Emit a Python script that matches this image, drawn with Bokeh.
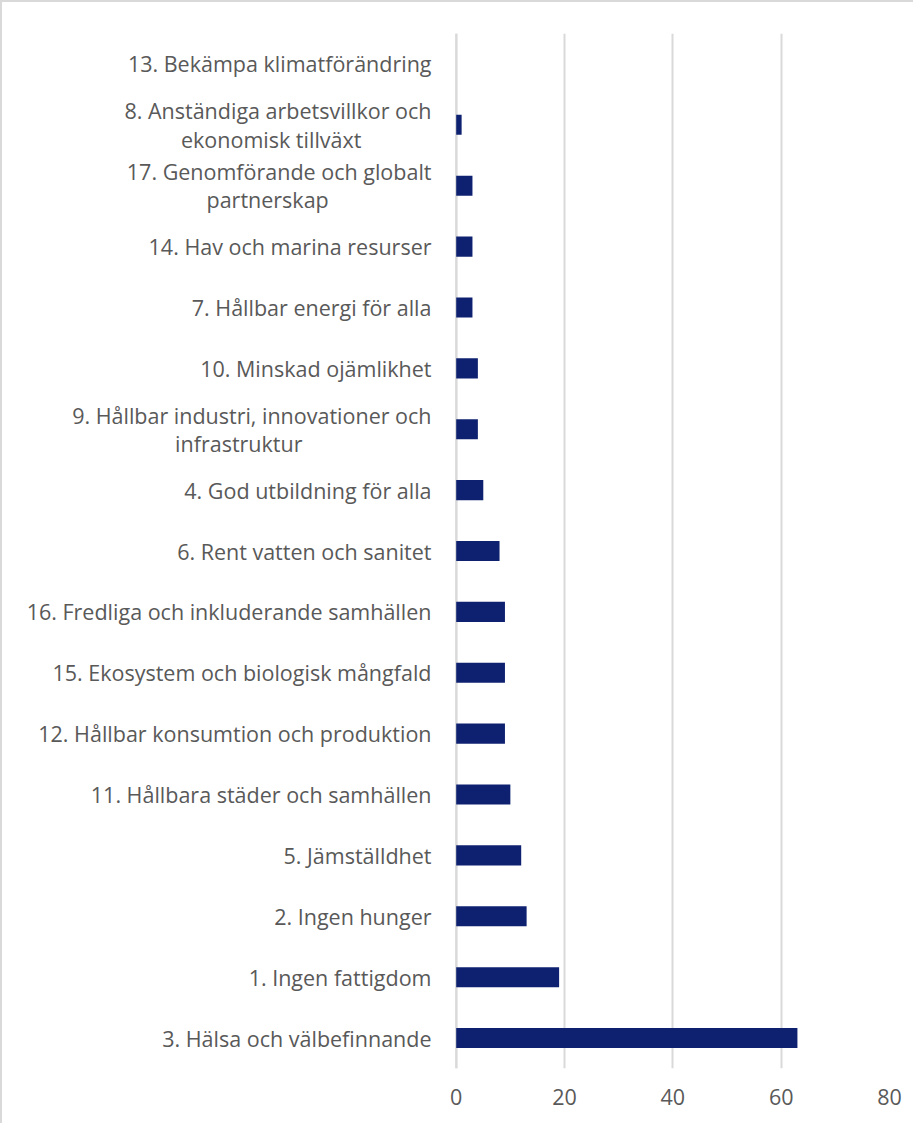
from bokeh.plotting import figure
from bokeh.models import FactorRange, Range1d, FixedTicker, Span
from bokeh.embed import file_html
from bokeh.resources import INLINE

EM = "\u2003"
NB = "\u00a0"

categories = [
    "3. Hälsa och välbefinnande",
    "1. Ingen fattigdom",
    "2. Ingen hunger",
    "5. Jämställdhet",
    "11. Hållbara städer och samhällen",
    "12. Hållbar konsumtion och produktion",
    "15. Ekosystem och biologisk mångfald",
    "16. Fredliga och inkluderande samhällen",
    "6. Rent vatten och sanitet",
    "4. God utbildning för alla",
    "9. Hållbar industri, innovationer och\ninfrastruktur" + EM * 6,
    "10. Minskad ojämlikhet",
    "7. Hållbar energi för alla",
    "14. Hav och marina resurser",
    "17. Genomförande och globalt\npartnerskap" + EM * 4 + NB * 3,
    "8. Anständiga arbetsvillkor och\nekonomisk tillväxt" + EM * 3 + NB,
    "13. Bekämpa klimatförändring",
]
values = [63, 19, 13, 12, 10, 9, 9, 9, 8, 5, 4, 4, 3, 3, 3, 1, 0]
x_ticks = [0, 20, 40, 60, 80]

p = figure(
    width=913, height=1123,
    y_range=FactorRange(factors=categories, range_padding=0),
    x_range=Range1d(-0.5, 80),
    output_backend="svg", toolbar_location=None,
    min_border_left=451, min_border_right=26,
    min_border_top=31, min_border_bottom=57,
)
p.styles = {"border-left": "2px solid #d9d9d9", "border-top": "2px solid #d9d9d9"}

p.add_layout(Span(location=0, dimension="height", line_color="#d9d9d9",
                  line_width=2, level="underlay"))

p.hbar(y=categories, right=values, left=0, height=0.33,
       fill_color="#0E2170", line_color=None)

p.outline_line_color = None
p.ygrid.grid_line_color = None
p.xgrid.grid_line_color = "#d9d9d9"
p.xgrid.grid_line_width = 2
p.xgrid.ticker = FixedTicker(ticks=x_ticks)

p.xaxis.ticker = FixedTicker(ticks=x_ticks)
p.xaxis.axis_line_color = None
p.xaxis.major_tick_line_color = None
p.xaxis.minor_tick_line_color = None
p.xaxis.major_label_text_font = "Open Sans"
p.xaxis.major_label_text_font_size = "21.5px"
p.xaxis.major_label_text_color = "#595959"
p.xaxis.major_label_standoff = 14

p.yaxis.axis_line_color = None
p.yaxis.major_tick_line_color = None
p.yaxis.major_label_text_font = "Open Sans"
p.yaxis.major_label_text_font_size = "21.5px"
p.yaxis.major_label_text_color = "#595959"
p.yaxis.major_label_text_line_height = 0.98
p.yaxis.major_label_standoff = 16

open("out.html", "w").write(file_html(p, INLINE))
